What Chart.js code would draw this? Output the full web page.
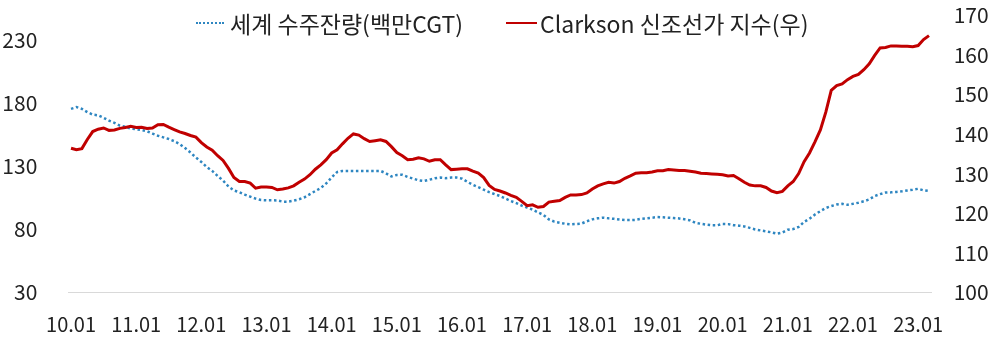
<!DOCTYPE html>
<html>
<head>
<meta charset="utf-8">
<script src="https://cdn.jsdelivr.net/npm/chart.js@4.4.1/dist/chart.umd.min.js"></script>
<style>
  html, body { margin: 0; padding: 0; background: #ffffff; }
  #wrap { position: relative; width: 1000px; height: 340px; }
  #legend { position: absolute; top: 8px; left: 0; width: 1000px; height: 30px;
            font-family: "Noto Sans CJK KR", "Noto Sans", sans-serif; font-size: 23px; color: #222; }
  .item { position: absolute; top: 0; height: 30px; line-height: 30px; white-space: nowrap; }
  .sample { position: absolute; top: 14px; height: 0; }
  .label { position: absolute; top: 0; }
</style>
</head>
<body>
<div id="wrap">
  <canvas id="c" width="1000" height="340"></canvas>
  <div id="legend"></div>
</div>
<script>
// ---- data ----
const years = ['10','11','12','13','14','15','16','17','18','19','20','21','22','23'];
const monthsInLastYear = 3; // data runs to 23.03

const seriesNames = ['세계 수주잔량(백만CGT)', 'Clarkson 신조선가 지수(우)'];

// World orderbook, million CGT (left axis)
const orderbook = [
  175.6,177.0,175.6,173.0,171.0,170.5,168.5,166.2,164.5,162.3,161.4,160.0,
  159.4,158.8,157.8,156.0,154.3,153.0,151.7,150.0,147.7,144.5,141.0,137.0,
  133.5,129.5,126.4,122.4,118.7,114.0,110.9,109.5,107.6,106.0,104.4,103.3,
  103.1,103.1,103.0,102.0,102.0,102.8,103.9,105.5,108.0,110.5,112.8,116.5,
  121.2,125.5,126.4,126.4,126.4,126.4,126.4,126.4,126.4,126.4,124.5,122.0,
  123.2,123.3,121.6,120.3,119.0,118.4,119.4,120.5,121.1,120.6,121.1,121.1,
  120.3,117.7,115.4,113.5,111.5,109.6,108.0,106.5,104.5,102.5,100.9,98.9,
  97.3,95.7,93.5,91.5,88.0,86.2,85.3,84.5,84.0,84.3,84.6,86.5,
  88.0,88.8,89.3,88.8,88.4,87.8,87.4,87.4,87.6,88.4,88.8,89.3,
  89.8,89.6,89.3,89.0,88.7,88.0,87.2,85.2,84.5,83.8,83.3,83.3,
  84.3,84.2,83.4,83.0,82.4,81.2,80.0,79.2,78.5,77.7,76.6,77.5,
  79.8,80.3,82.0,86.0,88.5,91.8,94.5,97.0,98.5,99.8,100.3,99.5,
  100.3,101.2,102.3,103.8,106.5,108.0,109.2,109.4,109.7,110.2,110.9,111.5,
  112.2,111.0,110.5
];

// Clarkson newbuilding price index (right axis)
const clarkson = [
  136.4,136.0,136.3,138.6,140.6,141.2,141.5,140.9,141.0,141.4,141.6,141.9,
  141.6,141.7,141.4,141.5,142.3,142.4,141.7,141.1,140.5,140.1,139.6,139.2,
  137.8,136.7,135.9,134.5,133.3,131.3,129.0,128.0,128.0,127.6,126.3,126.6,
  126.6,126.5,125.9,126.1,126.4,126.9,127.8,128.6,129.7,131.1,132.2,133.5,
  135.2,136.0,137.5,138.9,140.0,139.7,138.8,138.1,138.3,138.5,138.1,136.8,
  135.3,134.5,133.5,133.6,134.0,133.7,133.1,133.5,133.5,132.2,131.0,131.1,
  131.2,131.2,130.6,130.1,129.0,127.0,126.0,125.6,125.1,124.5,124.0,123.0,
  121.9,122.1,121.5,121.7,122.8,123.0,123.2,124.0,124.6,124.6,124.7,125.1,
  126.1,126.9,127.4,127.8,127.6,128.0,128.8,129.4,130.1,130.2,130.2,130.4,
  130.7,130.7,131.0,130.9,130.8,130.8,130.6,130.4,130.1,130.0,129.9,129.8,
  129.7,129.4,129.5,128.7,127.8,127.1,126.9,126.9,126.5,125.6,125.2,125.5,
  126.9,128.0,130.0,133.0,135.2,138.0,141.0,145.5,151.0,152.2,152.6,153.7,
  154.5,155.0,156.2,157.7,159.8,161.7,161.8,162.2,162.2,162.1,162.1,162.0,
  162.3,163.8,164.8
];

const leftTicks = [30, 80, 130, 180, 230];
const rightTicks = [100, 110, 120, 130, 140, 150, 160, 170];

// categories "YY.MM"
const labels = [];
years.forEach((y, yi) => {
  const n = (yi === years.length - 1) ? monthsInLastYear : 12;
  for (let m = 1; m <= n; m++) labels.push(y + '.' + String(m).padStart(2, '0'));
});

const BLUE = '#2E86C1';
const RED = '#C00000';
const FONT = '"Noto Sans CJK KR", "Noto Sans", sans-serif';

function fitY(s) {
  s.width = 68.3;
  s.paddingTop = 0;
  s.paddingBottom = 0;
}

const chart = new Chart(document.getElementById('c'), {
  type: 'line',
  data: {
    labels: labels,
    datasets: [
      { label: seriesNames[0], data: orderbook, yAxisID: 'y', borderColor: BLUE,
        borderWidth: 2.5, borderDash: [2.5, 2.6], pointRadius: 0, tension: 0, order: 1, fill: false },
      { label: seriesNames[1], data: clarkson, yAxisID: 'y1', borderColor: RED,
        borderWidth: 3, pointRadius: 0, tension: 0, order: 0, fill: false }
    ]
  },
  options: {
    responsive: false,
    animation: false,
    devicePixelRatio: 1,
    layout: { padding: { top: 15, left: 0, right: 0, bottom: 0 } },
    plugins: { legend: { display: false }, tooltip: { enabled: false } },
    scales: {
      x: {
        offset: true,
        grid: { display: false, drawTicks: false },
        border: { display: true, color: '#d9d9d9', width: 1 },
        ticks: {
          autoSkip: false, maxRotation: 0, minRotation: 0, padding: 20,
          color: '#222', font: { family: FONT, size: 20 },
          callback: function(v, i) { const l = labels[i]; return l.endsWith('.01') ? l : ''; }
        },
        afterFit: s => { s.height = 47.5; }
      },
      y: {
        position: 'left', min: 30, max: 250,
        grid: { display: false, drawTicks: false },
        border: { display: false },
        afterBuildTicks: s => { s.ticks = leftTicks.map(v => ({ value: v })); },
        ticks: { padding: 31, color: '#222', font: { family: FONT, size: 21 } },
        afterFit: fitY
      },
      y1: {
        position: 'right', min: 100, max: 170,
        grid: { display: false, drawTicks: false },
        border: { display: false },
        afterBuildTicks: s => { s.ticks = rightTicks.map(v => ({ value: v })); },
        ticks: { padding: 22, color: '#222', font: { family: FONT, size: 21 } },
        afterFit: fitY
      }
    }
  }
});

// HTML legend built from the datasets
const legendEl = document.getElementById('legend');
const legendPos = [{ sx: 196, sw: 28, tx: 230 }, { sx: 506, sw: 31, tx: 540 }];
chart.data.datasets.forEach((ds, i) => {
  const p = legendPos[i];
  const item = document.createElement('div');
  item.className = 'item';
  item.style.left = '0px';
  const smp = document.createElement('div');
  smp.className = 'sample';
  smp.style.left = p.sx + 'px';
  smp.style.width = p.sw + 'px';
  smp.style.borderTop = ds.borderDash ? '2.5px dotted ' + ds.borderColor : '2.6px solid ' + ds.borderColor;
  const lab = document.createElement('span');
  lab.className = 'label';
  lab.style.left = p.tx + 'px';
  lab.textContent = ds.label;
  item.appendChild(smp);
  item.appendChild(lab);
  legendEl.appendChild(item);
});
</script>
</body>
</html>
